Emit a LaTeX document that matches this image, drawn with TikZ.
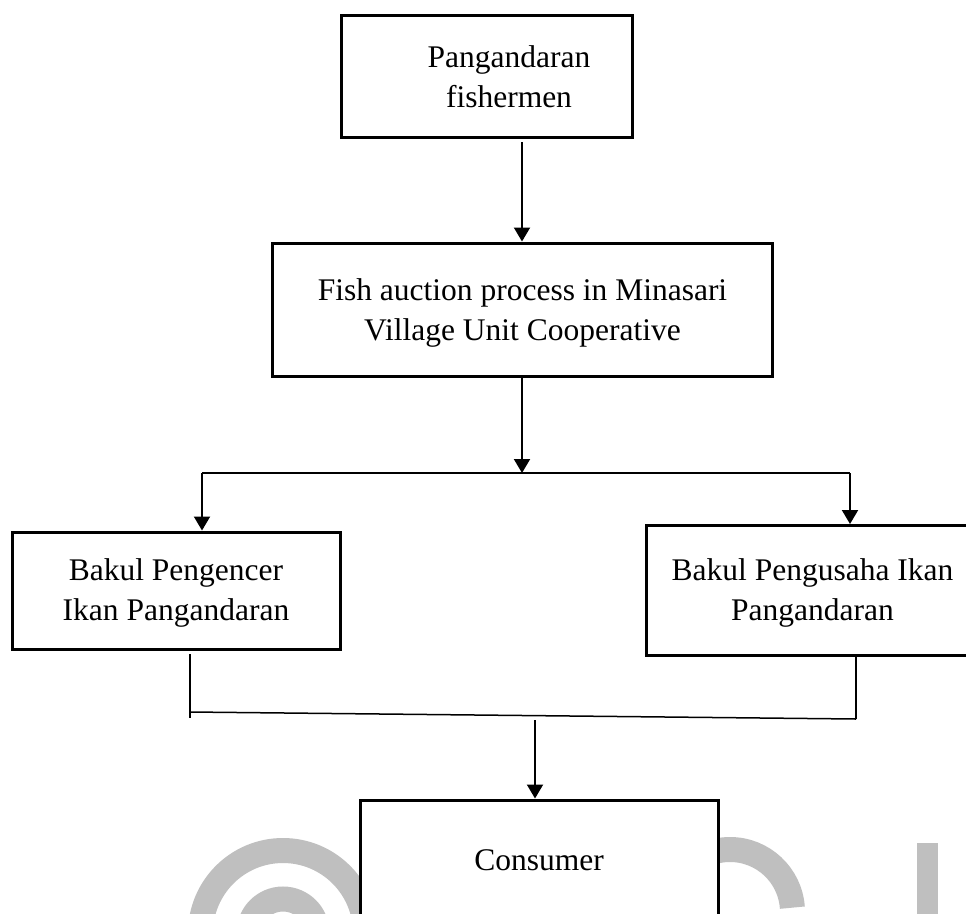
\documentclass[tikz,border=0pt]{standalone}
\usepackage{fontspec}
\setmainfont{Liberation Serif}
\usetikzlibrary{arrows.meta}
\begin{document}
\begin{tikzpicture}[x=1pt,y=-1pt,
  box/.style={draw, line width=3pt, fill=white, inner sep=0pt},
  txt/.style={font=\fontsize{31.5}{40}\selectfont, anchor=base, inner sep=0pt},
  arr/.style={line width=2pt, -{Triangle[width=16pt,length=14pt]}},
  thinline/.style={line width=1.5pt},
  wm/.style={draw=black!25, line width=25pt}
]
\useasboundingbox (0,0) rectangle (966,913);
\clip (0,0) rectangle (966,913);
\fill[white] (0,0) rectangle (966,913);

% watermark
\draw[wm] (283,933) circle[radius=82.5];
\draw[wm] (283,933) circle[radius=34];
\draw[wm] (667.5,912) arc[start angle=180,end angle=356,radius=62.5];
\fill[black!25] (917,843) rectangle (938,925);

% boxes
\node[box, minimum width=291pt, minimum height=122pt] (b1) at (486.5,76) {};
\node[box, minimum width=500pt, minimum height=133pt] (b2) at (522,309.5) {};
\node[box, minimum width=328pt, minimum height=117pt] (b3) at (176,590.5) {};
\node[box, minimum width=333pt, minimum height=130pt] (b4) at (812.5,590.5) {};
\node[box, minimum width=358pt, minimum height=140pt] (b5) at (539,870) {};

% texts
\node[txt] (t1a) at (509,67) {Pangandaran};
\node[txt] (t1b) at (509,107) {fishermen};
\node[txt] (t2a) at (522.5,300) {Fish auction process in Minasari};
\node[txt] (t2b) at (522.5,340) {Village Unit Cooperative};
\node[txt] (t3a) at (176,580) {Bakul Pengencer};
\node[txt] (t3b) at (176,620) {Ikan Pangandaran};
\node[txt] (t4a) at (812.5,580) {Bakul Pengusaha Ikan};
\node[txt] (t4b) at (812.5,620) {Pangandaran};
\node[txt] (t5) at (539,870) {Consumer};

% connectors
\coordinate (s1) at (522,142);
\coordinate (j1) at (522,473);
\coordinate (jl) at (202,473);
\coordinate (jr) at (850,473);
\draw[arr] (s1) -- (b2.north);
\draw[arr] (b2.south) -- (j1);
\draw[line width=2pt] (jl) -- (jr);
\draw[arr] (jl) -- (jl |- b3.north);
\draw[arr] (jr) -- (jr |- b4.north);

\coordinate (kltop) at (190,654);
\coordinate (klbot) at (190,718);
\coordinate (kl) at (190,712);
\coordinate (kr) at (856,719);
\coordinate (km) at (535,720);
\draw[thinline] (kltop) -- (klbot);
\draw[thinline] (kl) -- (kr);
\draw[thinline] (b4.south -| kr) -- (kr);
\draw[arr] (km) -- (km |- b5.north);
\end{tikzpicture}
\end{document}
